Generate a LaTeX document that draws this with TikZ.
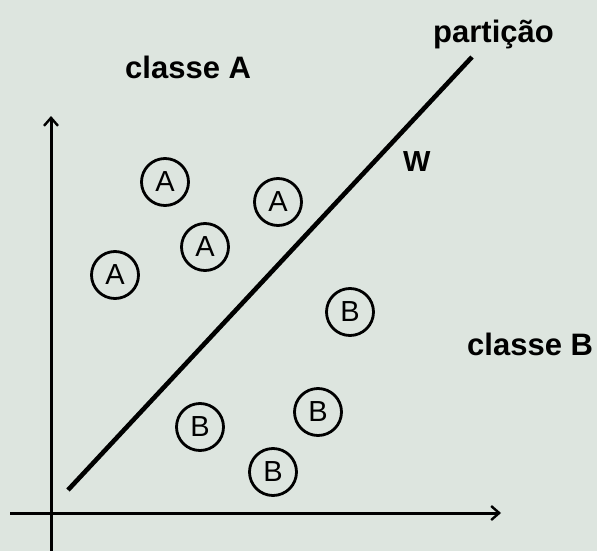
\documentclass[tikz,border=0pt]{standalone}
\usepackage{fontspec}
\setmainfont{Liberation Sans}
\usetikzlibrary{arrows.meta}
\definecolor{bg}{RGB}{221,229,223}
\begin{document}
\begin{tikzpicture}[x=1pt,y=-1pt,
  axis/.style={line width=3pt,-{Straight Barb[length=8pt,width=14pt,line width=2.4pt]}},
  sample/.style={circle,draw,line width=2.8pt,minimum size=47pt,inner sep=0pt,font=\fontsize{29}{30}\selectfont},
  lbl/.style={font=\bfseries\fontsize{31}{34}\selectfont,anchor=base west,inner sep=0pt}]
\fill[bg] (0,0) rectangle (597,551);
\useasboundingbox (0,0) rectangle (597,551);
% axes
\coordinate (ybot) at (51,551);
\coordinate (ytop) at (51,116);
\coordinate (xl) at (10,513);
\coordinate (xr) at (501,513);
\draw[axis] (ybot) -- (ytop);
\draw[axis] (xl) -- (xr);
% partition
\coordinate (p1) at (68,490);
\coordinate (p2) at (472,57);
\draw[line width=4.6pt] (p1) -- (p2);
% labels
\node[lbl] (cA) at (125,78) {classe A};
\node[lbl] (cB) at (467,355) {classe B};
\node[lbl] (part) at (433,43) {partição};
\node[lbl,font=\bfseries\fontsize{29}{32}\selectfont] (w) at (403,171) {W};
% samples
\node[sample] (a1) at (165,182) {A};
\node[sample] (a2) at (278,202) {A};
\node[sample] (a3) at (205,247) {A};
\node[sample] (a4) at (115,275) {A};
\node[sample] (b1) at (350,312) {B};
\node[sample] (b2) at (318,412) {B};
\node[sample] (b3) at (200,427) {B};
\node[sample] (b4) at (273,472) {B};
\end{tikzpicture}
\end{document}
